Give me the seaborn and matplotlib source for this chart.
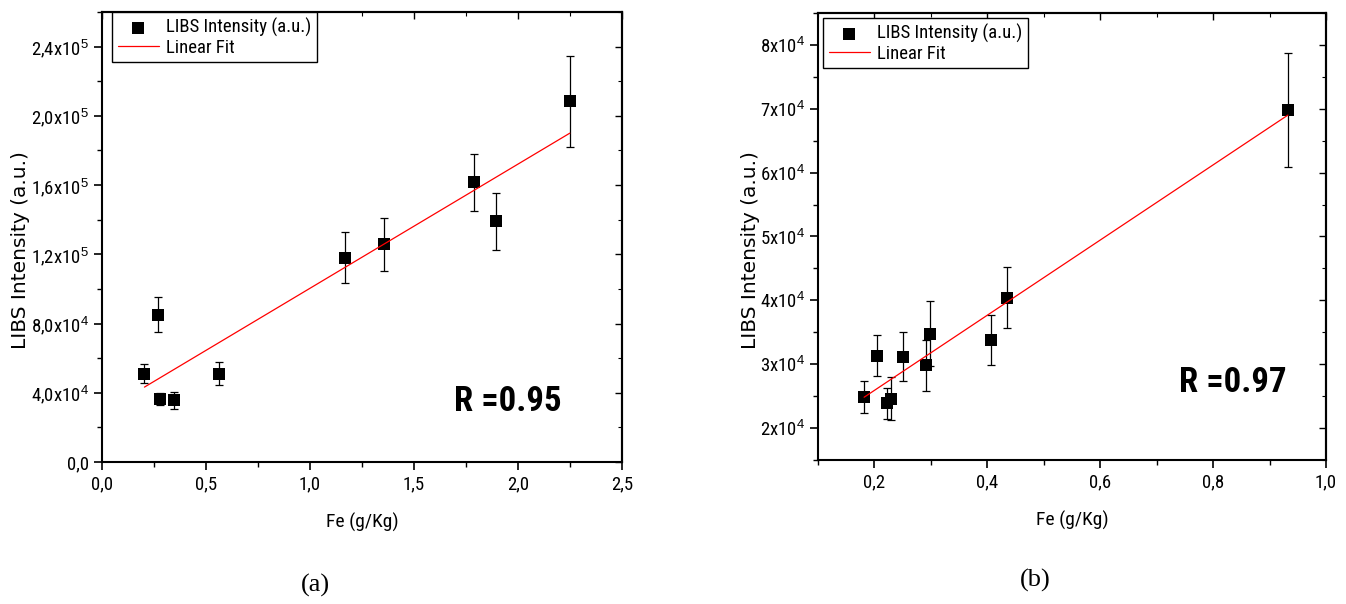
import numpy as np
import pandas as pd
import matplotlib
matplotlib.use("Agg")
import matplotlib.pyplot as plt
from matplotlib.ticker import FuncFormatter, MultipleLocator
import seaborn as sns

# ---------------- data ----------------
fe_a = [0.204, 0.271, 0.279, 0.347, 0.563, 1.166, 1.354, 1.790, 1.893, 2.249]
int_a = [5.11e4, 8.52e4, 3.62e4, 3.56e4, 5.11e4, 1.181e5, 1.259e5, 1.615e5, 1.39e5, 2.084e5]
err_a = [0.57e4, 1.0e4, 0.35e4, 0.5e4, 0.66e4, 1.47e4, 1.53e4, 1.65e4, 1.63e4, 2.63e4]

fe_b = [0.1817, 0.2044, 0.222, 0.2286, 0.2514, 0.2917, 0.2976, 0.4062, 0.4349, 0.9325]
int_b = [2.49e4, 3.135e4, 2.385e4, 2.46e4, 3.12e4, 2.98e4, 3.48e4, 3.375e4, 4.04e4, 6.98e4]
err_b = [0.25e4, 0.32e4, 0.24e4, 0.34e4, 0.38e4, 0.40e4, 0.51e4, 0.39e4, 0.48e4, 0.89e4]

r_labels = ["R =0.95", "R =0.97"]
captions = ["(a)", "(b)"]
xlabel = "Fe (g/Kg)"
ylabel = "LIBS Intensity (a.u.)"
legend_pts = "LIBS Intensity (a.u.)"
legend_fit = "Linear Fit"

# ---------------- style ----------------
sns.set_style("ticks")
NARROW = ["Roboto Condensed", "Open Sans Condensed", "Liberation Sans Narrow",
          "Liberation Sans", "DejaVu Sans"]
plt.rcParams["font.family"] = NARROW
plt.rcParams["mathtext.fontset"] = "custom"
plt.rcParams["mathtext.rm"] = "Liberation Sans"
plt.rcParams["mathtext.it"] = "Liberation Sans"
plt.rcParams["mathtext.bf"] = "Liberation Sans:bold"
for k in ["text.color", "axes.labelcolor", "xtick.color", "ytick.color", "axes.edgecolor"]:
    plt.rcParams[k] = "black"

W, H = 1346, 604
fig = plt.figure(figsize=(W / 100, H / 100), dpi=100)


def box(l, r, t, b):
    return [l / W, 1 - b / H, (r - l) / W, (b - t) / H]


ax_a = fig.add_axes(box(102, 622, 12, 462))
ax_b = fig.add_axes(box(818, 1326, 13, 460))


def sci_fmt(decimals):
    def f(v, pos):
        if v == 0:
            return "0,0"
        e = int(np.floor(np.log10(abs(v)) + 1e-9))
        m = v / 10 ** e
        ms = f"{m:.{decimals}f}".replace(".", ",")
        return ms + "x10$^{" + str(e) + "}$"
    return FuncFormatter(f)


def comma_fmt(v, pos):
    return f"{v:.1f}".replace(".", ",")


def draw(ax, x, y, err, xlim, ylim, xmaj, xmin, ymaj, ymin, yfmt, rpos, rtext, legpos):
    df = pd.DataFrame({"x": x, "y": y})
    ax.errorbar(x, y, yerr=err, fmt="none", ecolor="black", elinewidth=0.9,
                capsize=3, capthick=0.9, zorder=2)
    sns.scatterplot(data=df, x="x", y="y", ax=ax, marker="s", color="black",
                    s=75, edgecolor="black", linewidth=0, label=legend_pts, zorder=3)
    sns.regplot(data=df, x="x", y="y", ax=ax, scatter=False, ci=None, truncate=True,
                color="red", line_kws={"lw": 0.9, "zorder": 4}, label=legend_fit)
    ax.set_xlim(*xlim)
    ax.set_ylim(*ylim)
    ax.xaxis.set_major_locator(MultipleLocator(xmaj))
    ax.xaxis.set_minor_locator(MultipleLocator(xmin))
    ax.yaxis.set_major_locator(MultipleLocator(ymaj))
    ax.yaxis.set_minor_locator(MultipleLocator(ymin))
    ax.xaxis.set_major_formatter(FuncFormatter(comma_fmt))
    ax.yaxis.set_major_formatter(yfmt)
    ax.tick_params(which="major", direction="out", length=6, width=1.2, labelsize=13.5,
                   colors="black")
    ax.tick_params(which="minor", direction="out", length=3.5, width=1.0)
    for sp in ax.spines.values():
        sp.set_visible(True)
        sp.set_linewidth(1.5)
        sp.set_color("black")
    # inward ticks on top and right
    top = ax.secondary_xaxis("top")
    top.xaxis.set_major_locator(MultipleLocator(xmaj))
    top.xaxis.set_minor_locator(MultipleLocator(xmin))
    top.tick_params(which="major", direction="in", length=5, width=1.0, labeltop=False)
    top.tick_params(which="minor", direction="in", length=3, width=0.8)
    top.spines["top"].set_linewidth(1.5)
    right = ax.secondary_yaxis("right")
    right.yaxis.set_major_locator(MultipleLocator(ymaj))
    right.yaxis.set_minor_locator(MultipleLocator(ymin))
    right.tick_params(which="major", direction="in", length=5, width=1.0, labelright=False)
    right.tick_params(which="minor", direction="in", length=3, width=0.8)
    right.spines["right"].set_linewidth(1.5)

    ax.set_xlabel(xlabel, fontsize=14, labelpad=14)
    ax.set_ylabel(ylabel, fontsize=14.5, family="DejaVu Sans", labelpad=8)
    ax.text(rpos[0], rpos[1], rtext, fontsize=25, fontweight="bold",
            ha="left", va="center")
    leg = ax.legend(loc="upper left", bbox_to_anchor=legpos, fontsize=13.5,
                    frameon=True, fancybox=False, edgecolor="black", borderaxespad=0.0,
                    handlelength=2.2, handletextpad=0.4, borderpad=0.3,
                    labelspacing=0.1)
    leg.get_frame().set_linewidth(1.0)
    leg.get_frame().set_alpha(1)


draw(ax_a, fe_a, int_a, err_a, (0.0, 2.5), (0, 2.6e5), 0.5, 0.25, 4e4, 2e4,
     sci_fmt(1), (1.69, 3.5e4), r_labels[0], (0.019, 1.0))
draw(ax_b, fe_b, int_b, err_b, (0.1, 1.0), (1.5e4, 8.5e4), 0.2, 0.1, 1e4, 5e3,
     sci_fmt(0), (0.74, 2.72e4), r_labels[1], (0.01, 0.989))

ax_a.yaxis.set_label_coords(-0.138, 0.471)
ax_b.yaxis.set_label_coords(-0.114, 0.47)

fig.text(315 / W, 1 - 585 / H, captions[0], family="Liberation Serif", fontsize=19,
         ha="center", va="center")
fig.text(1035 / W, 1 - 580 / H, captions[1], family="Liberation Serif", fontsize=19,
         ha="center", va="center")

fig.savefig("out.png", dpi=100, facecolor="white")
